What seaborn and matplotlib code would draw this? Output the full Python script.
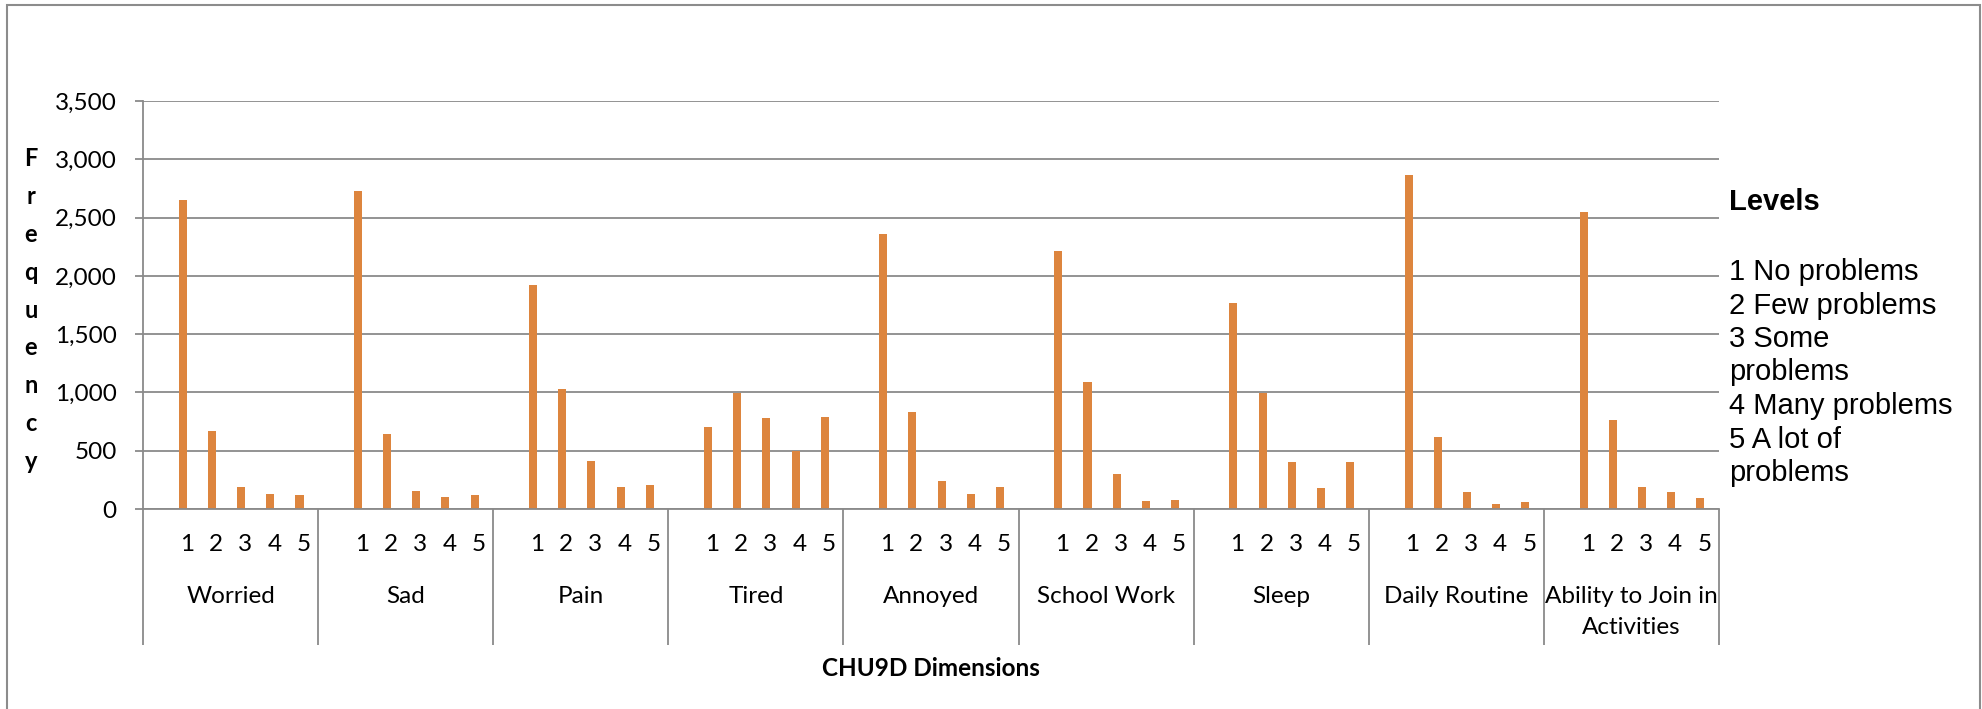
import numpy as np
import pandas as pd
import matplotlib
matplotlib.use("Agg")
import matplotlib.pyplot as plt
import matplotlib.transforms as mtransforms
from matplotlib.patches import Rectangle
from matplotlib.ticker import FuncFormatter, MultipleLocator, FixedLocator
import seaborn as sns

# ---------------- data ----------------
dimensions = ["Worried", "Sad", "Pain", "Tired", "Annoyed", "School Work",
              "Sleep", "Daily Routine", "Ability to Join in\nActivities"]
levels = ["1", "2", "3", "4", "5"]
worried = [2650, 666, 191, 129, 117]
sad = [2731, 643, 157, 103, 120]
pain = [1920, 1031, 414, 191, 206]
tired = [703, 994, 783, 500, 789]
annoyed = [2360, 834, 237, 126, 191]
school_work = [2211, 1091, 303, 71, 77]
sleep = [1771, 994, 403, 177, 406]
daily_routine = [2868, 620, 146, 46, 63]
ability = [2548, 763, 191, 146, 97]
legend_title = "Levels"
legend_lines = ["1 No problems", "2 Few problems", "3 Some", "problems",
                "4 Many problems", "5 A lot of", "problems"]

series_values = [worried, sad, pain, tired, annoyed, school_work, sleep,
                 daily_routine, ability]

# ---------------- build long table ----------------
order = []
tick_labels = []
rows = []
for d, vals in zip(dimensions, series_values):
    blank = f"{d}|blank"
    order.append(blank)
    tick_labels.append("")
    for lv, v in zip(levels, vals):
        key = f"{d}|{lv}"
        order.append(key)
        tick_labels.append(lv)
        rows.append({"cat": key, "freq": v, "series": "Frequency"})
df = pd.DataFrame(rows)

# ---------------- style ----------------
sns.set_theme(style="white")
plt.rcParams["font.family"] = ["Lato", "DejaVu Sans"]

W, H, DPI = 1982, 709, 100
fig = plt.figure(figsize=(W / DPI, H / DPI), dpi=DPI)
fig.patch.set_facecolor("white")

x0, x1 = 143, 1719
y_top, y_bot = 101, 509
ax = fig.add_axes([x0 / W, 1 - y_bot / H, (x1 - x0) / W, (y_bot - y_top) / H])

orange = "#DD853E"
grid_c = "#8a8a8a"

sns.barplot(data=df, x="cat", y="freq", hue="series",
            order=order, hue_order=["Frequency", "Empty"],
            palette={"Frequency": orange, "Empty": orange},
            width=0.55, dodge=True, legend=False, ax=ax,
            saturation=1, linewidth=0, errorbar=None)

ax.set_xlim(-0.5, len(order) - 0.5)
ax.set_ylim(0, 3500)
ax.yaxis.set_major_locator(MultipleLocator(500))
ax.yaxis.set_major_formatter(FuncFormatter(lambda v, p: f"{int(v):,}"))
ax.grid(axis="y", color=grid_c, linewidth=1.3)
ax.set_axisbelow(True)

for s in ["top", "right"]:
    ax.spines[s].set_visible(False)
for s in ["left", "bottom"]:
    ax.spines[s].set_color(grid_c)
    ax.spines[s].set_linewidth(1.3)

ax.tick_params(axis="y", which="major", direction="out", length=6,
               width=1.3, color=grid_c, pad=13, labelsize=17.5,
               labelcolor="black", left=True)

# x: level labels at each category, separators as long minor ticks
ax.xaxis.set_major_locator(FixedLocator(list(range(len(order)))))
ax.set_xticklabels(tick_labels)
ax.tick_params(axis="x", which="major", length=0, pad=18, labelsize=17.5,
               labelcolor="black")
sep = [6 * i - 0.5 for i in range(len(dimensions) + 1)]
ax.xaxis.set_minor_locator(FixedLocator(sep))
ax.tick_params(axis="x", which="minor", direction="out", length=98,
               width=1.3, color=grid_c, bottom=True)

ax.set_xlabel("")
ax.set_ylabel("")

# group labels
trans = mtransforms.blended_transform_factory(ax.transData, fig.transFigure)
for i, d in enumerate(dimensions):
    ax.text(6 * i + 2.5, 1 - 586 / H, d, transform=trans, ha="center",
            va="top", fontsize=17.5, color="black", linespacing=1.6,
            multialignment="center")

# axis titles
fig.text((x0 + x1) / 2 / W, 1 - 668 / H, "CHU9D Dimensions", ha="center",
         va="center", fontsize=17.5, fontweight="bold", color="black")
fig.text(31 / W, 1 - 310 / H, "\n".join("Frequency"), ha="center",
         va="center", fontsize=17, fontweight="bold", color="black",
         linespacing=1.78)

# legend-like text block
fig.text(1729 / W, 1 - 202 / H, legend_title, ha="left", va="center",
         fontsize=21, fontweight="bold", color="black",
         family=["Liberation Sans", "DejaVu Sans"])
fig.text(1729 / W, 1 - 258 / H, "\n".join(legend_lines), ha="left",
         va="top", fontsize=21, color="black", linespacing=1.25,
         family=["Liberation Sans", "DejaVu Sans"])

# outer frame
fig.patches.append(Rectangle((7 / W, -0.05), (1980 - 7) / W, 1.05 - 5 / H,
                             transform=fig.transFigure, fill=False,
                             edgecolor="#8c8c8c", linewidth=1.5))

fig.savefig("out.png", dpi=DPI, facecolor="white")
